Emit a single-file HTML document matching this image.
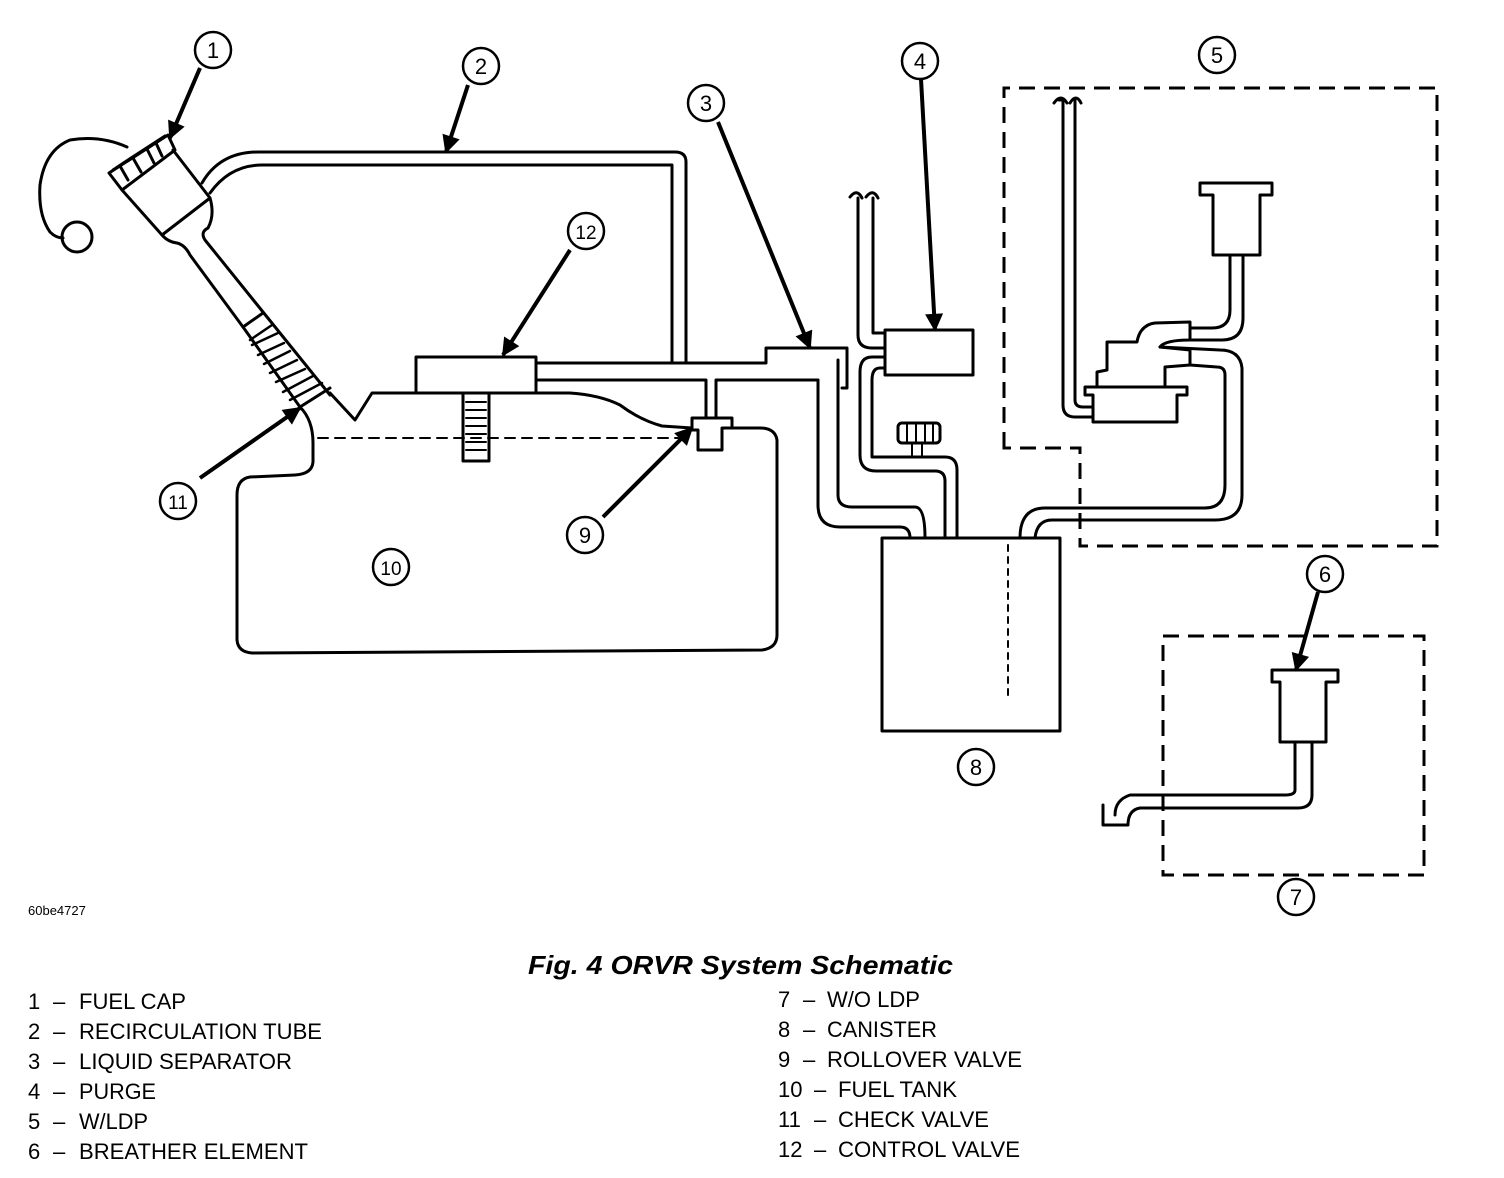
<!DOCTYPE html>
<html><head><meta charset="utf-8"><style>
html,body{margin:0;padding:0;background:#fff;}
svg{display:block;}
text{font-family:"Liberation Sans",Arial,sans-serif;fill:#000;}
</style></head><body>
<svg width="1504" height="1178" viewBox="0 0 1504 1178" xmlns="http://www.w3.org/2000/svg">
<defs>
<marker id="ahb" viewBox="0 0 10 10" markerWidth="22" markerHeight="18" refX="9" refY="5" orient="auto" markerUnits="userSpaceOnUse">
<path d="M0,0 L10,5 L0,10 Z" fill="#000"/></marker>
</defs>
<g fill="none" stroke="#000" stroke-width="3" stroke-linejoin="round" stroke-linecap="round">
<!-- fuel tank -->
<path d="M300,407 Q313,420 313,443 L313,462 Q312,474 295,475 L250,477 Q237,479 237,495 L237,640 Q238,652 252,653 L762,650 Q777,648 777,635 L777,440 Q775,428 760,428 L732,428 M692,428 L662,426 Q640,420 620,405 Q600,395 570,393 L372,393 L355,420 L330,393"/>
<path d="M318,438 L692,438" stroke-dasharray="10,7" stroke-width="2"/>
<!-- filler neck -->
<path d="M122,190 L162,235 Q168,242 177,243 Q185,245 190,255 L243,327 L300,407"/>
<path d="M173,150 L210,198 Q215,215 208,228 Q200,232 205,240 L263,312 L330,395"/>
<path d="M162,235 L210,198"/>
<path d="M243,327 L263,313 M300,407 L330,388"/>
<g stroke-width="2.5"><path d="M250,340 L272,325 M252,345 L278,333 M258,355 L284,343 M264,364 L290,351 M270,373 L297,360 M276,382 L305,369 M283,392 L313,376 M290,400 L322,383"/></g>
<!-- cap -->
<path d="M109,173 L122,190 L175,150 L168,135 Z"/>
<path d="M113,170 L125,162 L165,136 M120,166 L128,180 M133,158 L141,172 M147,149 L154,163 M156,143 L162,156"/>
<path d="M127,147 Q100,135 70,140 Q45,150 40,185 Q38,215 50,232 Q56,238 63,238"/>
<circle cx="77" cy="237" r="15"/>
<!-- recirculation tube -->
<path d="M202,183 Q220,152 258,152 L675,152 Q686,152 686,162 L686,363"/>
<path d="M210,193 Q230,165 262,165 L672,165 L672,363"/>
<!-- control valve 12 -->
<rect x="416" y="357" width="120" height="36"/>
<rect x="463" y="393" width="26" height="68"/>
<g stroke-width="2"><path d="M466,402 H486 M466,410 H486 M466,418 H486 M466,426 H486 M466,434 H486 M466,442 H486 M466,450 H486"/></g>
<!-- tubes to separator -->
<path d="M536,363 L766,363 L766,348 L847,348 L847,388 L842,388 M536,380 L706,380 L706,417 M716,417 L716,380 L818,380"/>
<!-- rollover valve 9 -->
<path d="M692,418 L732,418 L732,428 L722,428 L722,450 L698,450 L698,430 L692,430 Z"/>
<!-- separator to canister -->
<path d="M818,380 L818,505 Q818,527 840,527 L900,527 Q910,527 910,538"/>
<path d="M838,360 L838,495 Q838,507 852,507 L915,507 Q925,507 925,538"/>
<!-- purge line -->
<path d="M858,198 L858,335 Q858,348 872,348 L885,348 M873,198 L873,333 L885,333"/>
<path d="M850,197 Q857,188 862,198 M866,197 Q873,188 878,198"/>
<rect x="885" y="330" width="88" height="45"/>
<path d="M885,357 L872,357 Q860,357 860,372 L860,455 Q860,471 876,471 L935,471 Q945,471 945,481 L945,538 M885,368 L880,368 Q872,368 872,380 L872,457 L945,457 Q957,457 957,470 L957,538"/>
<rect x="898" y="423" width="42" height="20" rx="4"/>
<path d="M907,423 V443 M916,423 V443 M925,423 V443 M933,423 V443 M912,443 V457 M922,443 V457" stroke-width="2"/>
<!-- canister -->
<rect x="882" y="538" width="178" height="193"/>
<path d="M1008,545 L1008,700" stroke-dasharray="6,6" stroke-width="2"/>
<!-- tube from canister to LDP -->
<path d="M1020,538 Q1020,508 1045,508 L1205,508 Q1225,508 1225,485 L1225,375 Q1225,367 1217,367 L1190,365"/>
<path d="M1035,538 Q1037,520 1052,520 L1215,520 Q1242,520 1242,495 L1242,368 Q1240,350 1220,350 L1160,347"/>
<!-- LDP -->
<path d="M1059,100 L1063,100 L1063,405 Q1063,417 1075,417 L1093,417 M1075,100 L1075,400 Q1075,407 1083,407 L1093,407"/>
<path d="M1054,103 Q1061,93 1067,103 M1070,103 Q1076,93 1081,103"/>
<path d="M1085,387 L1187,387 L1187,395 L1177,395 L1177,422 L1093,422 L1093,395 L1085,395 Z"/>
<path d="M1097,387 L1097,372 L1107,370 L1107,342 L1137,342 Q1140,325 1155,323 L1190,322 L1190,340 Q1165,340 1160,347 L1190,350 L1190,365 L1165,367 L1165,387"/>
<path d="M1190,328 L1212,328 Q1230,328 1230,310 L1230,255 M1190,340 L1222,340 Q1243,340 1243,318 L1243,255"/>
<path d="M1200,183 L1272,183 L1272,195 L1260,195 L1260,255 L1213,255 L1213,195 L1200,195 Z"/>
<!-- W/O LDP breather -->
<path d="M1272,670 L1338,670 L1338,682 L1326,682 L1326,742 L1280,742 L1280,682 L1272,682 Z"/>
<path d="M1295,742 L1295,790 Q1295,795 1285,795 L1130,795 Q1115,800 1115,815 M1312,742 L1312,795 Q1312,808 1298,808 L1140,808 Q1128,810 1128,825 M1103,805 L1103,825 L1128,825"/>
</g>
<!-- dashed boxes -->
<g fill="none" stroke="#000" stroke-width="3" stroke-dasharray="16,9">
<path d="M1004,448 L1004,88 L1437,88 L1437,546 L1080,546 L1080,448 Z"/>
<rect x="1163" y="636" width="261" height="239"/>
</g>
<!-- arrows -->
<g stroke="#000" stroke-width="4" marker-end="url(#ahb)">
<line x1="200" y1="68" x2="170" y2="138"/>
<line x1="468" y1="85" x2="446" y2="152"/>
<line x1="718" y1="122" x2="810" y2="348"/>
<line x1="921" y1="79" x2="935" y2="330"/>
<line x1="1318" y1="592" x2="1296" y2="670"/>
<line x1="603" y1="517" x2="692" y2="428"/>
<line x1="200" y1="478" x2="300" y2="408"/>
<line x1="570" y1="250" x2="503" y2="355"/>
</g>
<!-- callouts -->
<g fill="#fff" stroke="#000" stroke-width="2.5">
<circle cx="213" cy="50" r="18"/><circle cx="481" cy="66" r="18"/><circle cx="706" cy="103" r="18"/>
<circle cx="920" cy="61" r="18"/><circle cx="1217" cy="55" r="18"/><circle cx="1325" cy="574" r="18"/>
<circle cx="1296" cy="897" r="18"/><circle cx="976" cy="767" r="18"/><circle cx="585" cy="535" r="18"/>
<circle cx="391" cy="567" r="18"/><circle cx="178" cy="501" r="18"/><circle cx="586" cy="231" r="18"/>
</g>
<g font-size="22" text-anchor="middle">
<text x="213" y="58">1</text><text x="481" y="74">2</text><text x="706" y="111">3</text>
<text x="920" y="69">4</text><text x="1217" y="63">5</text><text x="1325" y="582">6</text>
<text x="1296" y="905">7</text><text x="976" y="775">8</text><text x="585" y="543">9</text>
<text x="391" y="575" font-size="19">10</text><text x="178" y="509" font-size="19">11</text><text x="586" y="239" font-size="19">12</text>
</g>
<text x="28" y="915" font-size="13">60be4727</text>
<text x="528" y="974" font-size="26" font-weight="bold" font-style="italic" textLength="425" lengthAdjust="spacingAndGlyphs">Fig. 4 ORVR System Schematic</text>
<g font-size="22">
<text x="28" y="1009">1</text><text x="53" y="1009">–</text><text x="79" y="1009" textLength="107" lengthAdjust="spacingAndGlyphs">FUEL CAP</text>
<text x="28" y="1039">2</text><text x="53" y="1039">–</text><text x="79" y="1039" textLength="243" lengthAdjust="spacingAndGlyphs">RECIRCULATION TUBE</text>
<text x="28" y="1069">3</text><text x="53" y="1069">–</text><text x="79" y="1069" textLength="213" lengthAdjust="spacingAndGlyphs">LIQUID SEPARATOR</text>
<text x="28" y="1099">4</text><text x="53" y="1099">–</text><text x="79" y="1099" textLength="77" lengthAdjust="spacingAndGlyphs">PURGE</text>
<text x="28" y="1129">5</text><text x="53" y="1129">–</text><text x="79" y="1129" textLength="69" lengthAdjust="spacingAndGlyphs">W/LDP</text>
<text x="28" y="1159">6</text><text x="53" y="1159">–</text><text x="79" y="1159" textLength="229" lengthAdjust="spacingAndGlyphs">BREATHER ELEMENT</text>
<text x="778" y="1007">7</text><text x="803" y="1007">–</text><text x="827" y="1007" textLength="93" lengthAdjust="spacingAndGlyphs">W/O LDP</text>
<text x="778" y="1037">8</text><text x="803" y="1037">–</text><text x="827" y="1037" textLength="110" lengthAdjust="spacingAndGlyphs">CANISTER</text>
<text x="778" y="1067">9</text><text x="803" y="1067">–</text><text x="827" y="1067" textLength="195" lengthAdjust="spacingAndGlyphs">ROLLOVER VALVE</text>
<text x="778" y="1097">10</text><text x="814" y="1097">–</text><text x="838" y="1097" textLength="119" lengthAdjust="spacingAndGlyphs">FUEL TANK</text>
<text x="778" y="1127">11</text><text x="814" y="1127">–</text><text x="838" y="1127" textLength="151" lengthAdjust="spacingAndGlyphs">CHECK VALVE</text>
<text x="778" y="1157">12</text><text x="814" y="1157">–</text><text x="838" y="1157" textLength="182" lengthAdjust="spacingAndGlyphs">CONTROL VALVE</text>
</g>
</svg>
</body></html>
